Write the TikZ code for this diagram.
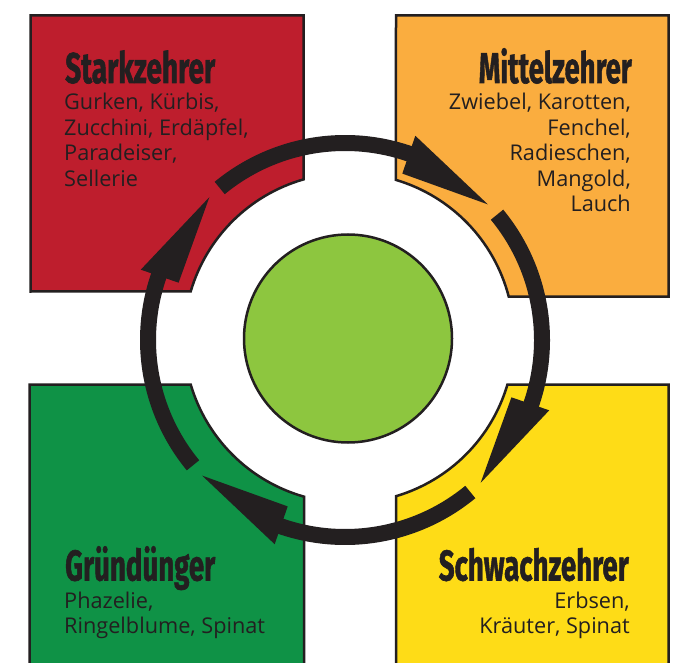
\documentclass[tikz,border=0pt]{standalone}
\usepackage{fontspec}
\usepackage{graphicx}
\setmainfont{Open Sans}
\newfontfamily\titlefont{Fira Sans}[BoldFeatures={FakeBold=1.5}]
\usetikzlibrary{calc}

\definecolor{ink}{HTML}{231F20}
\definecolor{strongred}{HTML}{BE1E2D}
\definecolor{midorange}{HTML}{FAAD3F}
\definecolor{covergreen}{HTML}{0F9246}
\definecolor{weakyellow}{HTML}{FEDC17}
\definecolor{lime}{HTML}{8DC63F}

\tikzset{
  bed/.style={draw=ink, line width=2.5pt, line join=miter},
  cycleline/.style={draw=ink, line width=16pt, line cap=butt},
  headtip/.style={fill=ink},
  titletext/.style={inner sep=0pt, text=ink},
  croptext/.style={inner sep=0pt, text=ink, font=\fontsize{21.7}{25.5}\selectfont},
}

\newcommand{\bedtitle}[2]{\resizebox{#1}{\height}{\titlefont\bfseries\fontsize{43}{43}\selectfont #2}}

\begin{document}
\begin{tikzpicture}[x=1pt,y=1pt]
\useasboundingbox (0,0) rectangle (684,662);
\fill[white] (0,0) rectangle (684,662);

% centre of the rotation ring
\coordinate (hub) at (345,322);

% four beds, each with a round bite taken out towards the centre
\path[bed, fill=strongred]
  (30.5,646.5) -- (303.5,646.5) -- (303.5,482.6)
  arc[start angle=106, end angle=163.6, radius=165] -- (30.5,370.5) -- cycle;
\path[bed, fill=midorange]
  (396,646.5) -- (668.5,646.5) -- (668.5,365.5) -- (508.7,365.5)
  arc[start angle=14.6, end angle=73.5, radius=165] -- cycle;
\path[bed, fill=covergreen]
  (29.5,277.5) -- (190.7,277.5)
  arc[start angle=196.4, end angle=254.2, radius=165] -- (304,-10) -- (29.5,-10) -- cycle;
\path[bed, fill=weakyellow]
  (396,165.8) arc[start angle=-73.5, end angle=-16.4, radius=165]
  -- (668.5,277.5) -- (668.5,-10) -- (396,-10) -- cycle;

% clockwise rotation arrows
\foreach \k in {0,...,3} {
  \pgfmathsetmacro\sa{129.5-90*\k}
  \pgfmathsetmacro\ba{71-90*\k}
  \pgfmathsetmacro\be{70-90*\k}
  \pgfmathsetmacro\ta{43.5-90*\k}
  \draw[cycleline] ($(hub)+(\sa:197)$) arc[start angle=\sa, end angle=\be, radius=197];
  \fill[headtip] ($(hub)+(\ba:176)$) -- ($(hub)+(\ta:197)$) -- ($(hub)+(\ba:216)$) -- cycle;
}

% core disc
\node[circle, draw=ink, line width=2.5pt, fill=lime, minimum size=208pt, inner sep=0pt] (core) at (348,323.5) {};

% Starkzehrer
\node[titletext, anchor=base west] (stark) at (65,579) {\bedtitle{150pt}{Starkzehrer}};
\foreach \line [count=\i] in {{Gurken, Kürbis,},{Zucchini, Erdäpfel,},{Paradeiser,},{Sellerie}}
  \node[croptext, anchor=base west] (stark-\i) at (64,{552-25.5*(\i-1)}) {\line};

% Mittelzehrer
\node[titletext, anchor=base east] (mittel) at (632,579) {\bedtitle{153pt}{Mittelzehrer}};
\foreach \line [count=\i] in {{Zwiebel, Karotten,},{Fenchel,},{Radieschen,},{Mangold,},{Lauch}}
  \node[croptext, anchor=base east] (mittel-\i) at (631,{552-25.5*(\i-1)}) {\line};

% Gründünger
\node[titletext, anchor=base west] (gruen) at (65,81.5) {\bedtitle{150pt}{Gründünger}};
\foreach \line [count=\i] in {{Phazelie,},{Ringelblume, Spinat}}
  \node[croptext, anchor=base west] (gruen-\i) at (64,{54-25.5*(\i-1)}) {\line};

% Schwachzehrer
\node[titletext, anchor=base east] (schwach) at (629,81.5) {\bedtitle{190pt}{Schwachzehrer}};
\foreach \line [count=\i] in {{Erbsen,},{Kräuter, Spinat}}
  \node[croptext, anchor=base east] (schwach-\i) at (630,{54-25.5*(\i-1)}) {\line};
\end{tikzpicture}
\end{document}
